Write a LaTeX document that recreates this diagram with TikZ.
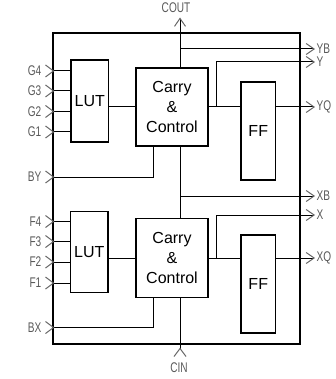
\documentclass[tikz,border=0pt]{standalone}
\usepackage{fontspec}
\setmainfont{Liberation Sans}
\newfontfamily\lblfont[FakeStretch=0.72]{Liberation Sans}
\usetikzlibrary{arrows.meta}

\begin{document}
\begin{tikzpicture}[
  x=1pt, y=-1pt,
  blk/.style={draw, line width=1.8pt, align=center, font=\fontsize{16}{19.7}\selectfont},
  lbl/.style={inner sep=0pt, text=black!65, font=\lblfont\fontsize{14}{14}\selectfont},
  wire/.style={line width=1pt},
  outarr/.style={wire, -{Straight Barb[length=8pt, width=11pt, color=black!60]}},
  inarr/.style={wire, {Straight Barb[reversed, length=8pt, width=12pt, color=black!60]}-}
]
\useasboundingbox (0,0) rectangle (336,379);
\node[draw, line width=2pt, minimum width=247pt, minimum height=311pt] (clb) at (176.5,188.5) {};
\node[blk, minimum width=37.5pt, minimum height=82pt] (luty) at (89.75,101) {LUT};
\node[blk, minimum width=72pt, minimum height=78pt] (ccy) at (172,107) {Carry\\\&\\Control};
\node[blk, minimum width=34.5pt, minimum height=98pt] (ffy) at (258.25,131) {FF};
\node[blk, minimum width=37.5pt, minimum height=81pt] (lutx) at (89.25,252) {LUT};
\node[blk, minimum width=72pt, minimum height=79pt] (ccx) at (172,258) {Carry\\\&\\Control};
\node[blk, minimum width=34.5pt, minimum height=98pt] (ffx) at (258.25,284) {FF};

\coordinate (pCOUT) at (180,17.5);
\coordinate (pCIN) at (180,357);
\node[lbl] (lCOUT) at (176,8) {COUT};
\node[lbl] (lCIN) at (179,368) {CIN};
\foreach \n/\y in {YB/49, Y/62, YQ/107, XB/196, X/215, XQ/258} {
  \coordinate (p\n) at (315,\y);
  \node[lbl, anchor=west] (l\n) at (316.5,\y) {\n};
}
\foreach \n/\y in {G4/71, G3/91, G2/111.5, G1/132, BY/177, F4/221.5, F3/241.5, F2/262, F1/283, BX/327.5} {
  \coordinate (p\n) at (45,\y);
  \node[lbl, anchor=east] (l\n) at (41.5,\y) {\n};
}

\foreach \n in {G4,G3,G2,G1} \draw[inarr] (p\n) -- (luty.west |- p\n);
\foreach \n in {F4,F3,F2,F1} \draw[inarr] (p\n) -- (lutx.west |- p\n);
\draw[wire] (luty.east |- ccy.west) -- (ccy.west);
\draw[wire] (lutx.east |- ccx.west) -- (ccx.west);
\draw[wire] (ccy.east) -- (ffy.west |- ccy.east);
\draw[wire] (ccx.east) -- (ffx.west |- ccx.east);
\draw[outarr] (ffy.east |- ccy.east) -- (pYQ);
\draw[outarr] (ffx.east |- ccx.east) -- (pXQ);
\draw[outarr] ([xshift=8pt]ccy.east) |- (pY);
\draw[outarr] ([xshift=8pt]ccx.east) |- (pX);
\draw[outarr] (pCOUT |- ccy.north) -- (pCOUT);
\draw[outarr] (pCOUT |- pYB) -- (pYB);
\draw[wire] (pCOUT |- ccy.south) -- (pCOUT |- ccx.north);
\draw[outarr] (pCOUT |- pXB) -- (pXB);
\draw[inarr] (pBY) -| ([xshift=-19pt]ccy.south);
\draw[inarr] (pBX) -| ([xshift=-19pt]ccx.south);
\draw[inarr] (pCIN) -- (pCIN |- ccx.south);
\end{tikzpicture}
\end{document}
